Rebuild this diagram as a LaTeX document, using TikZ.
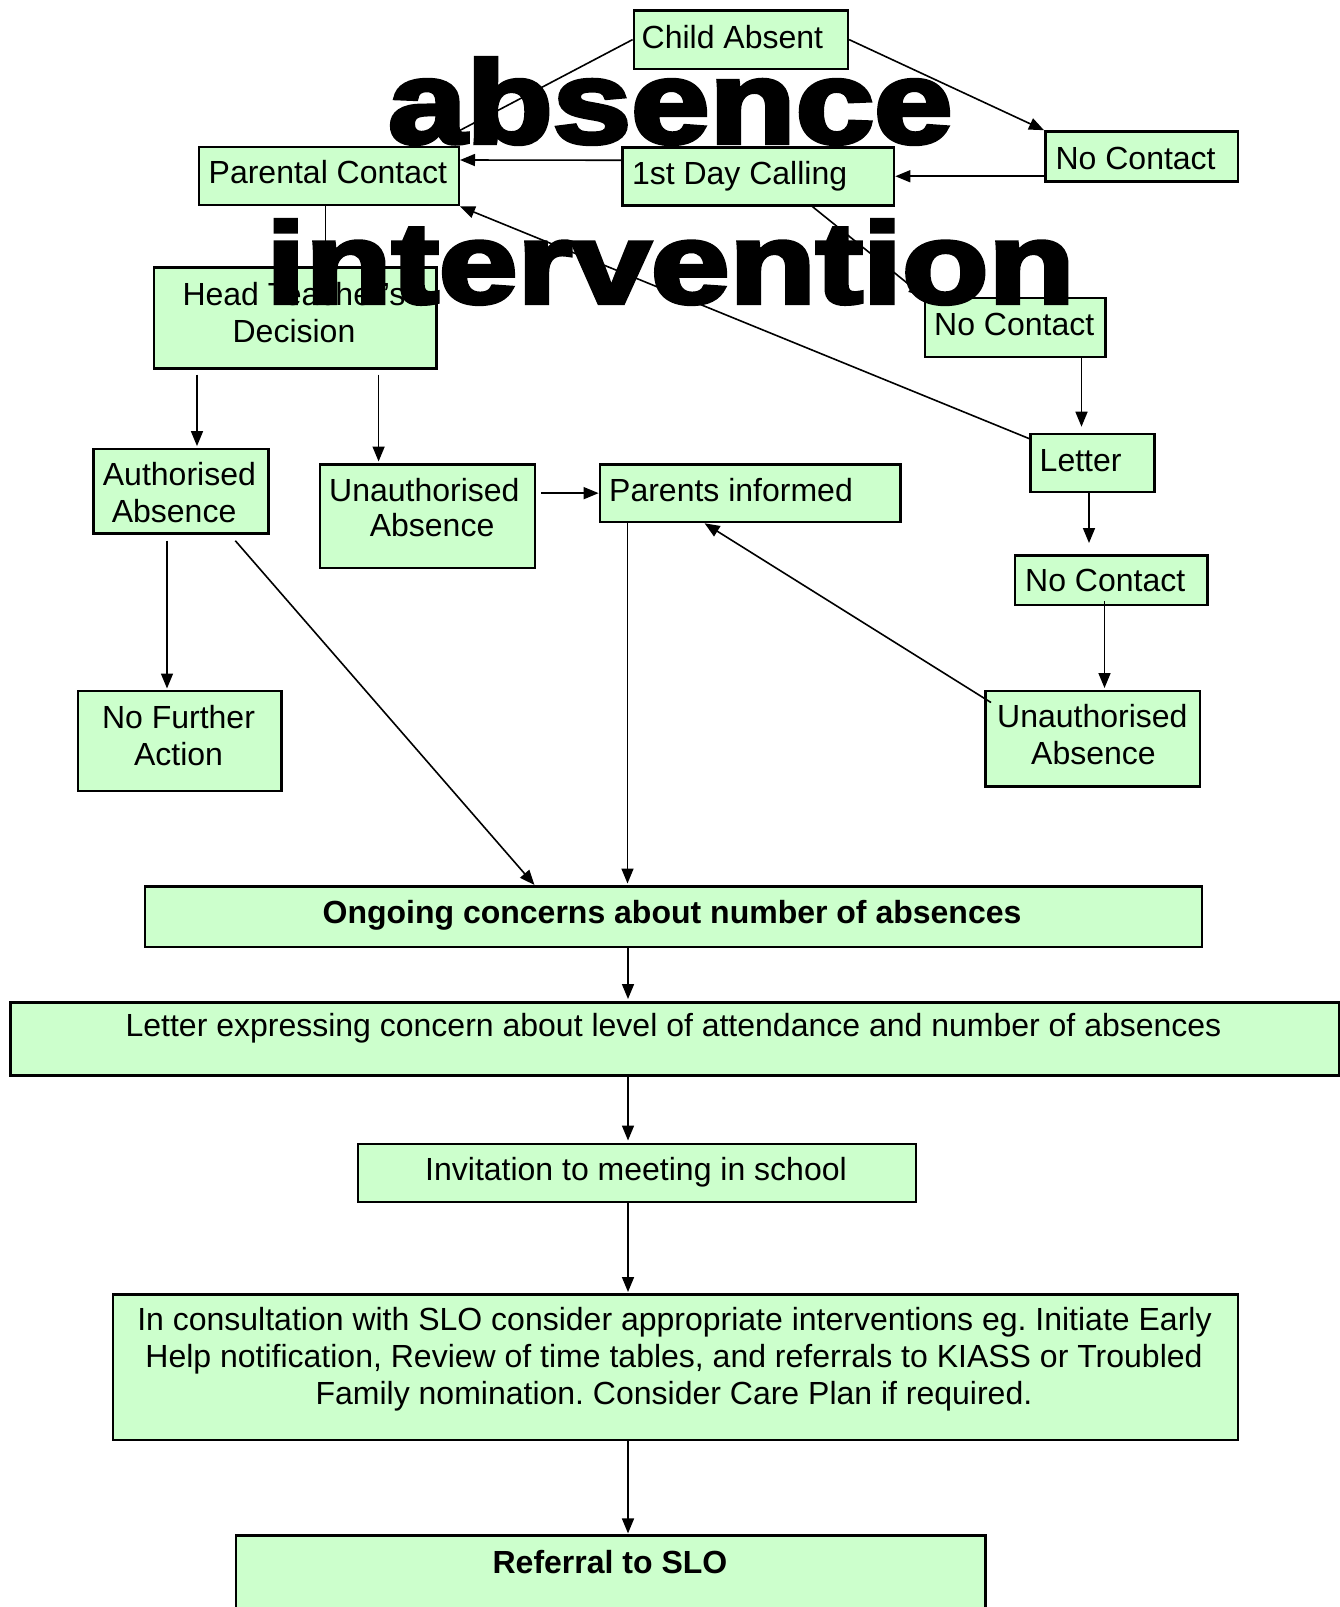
\documentclass[tikz,border=0pt]{standalone}
\usepackage{fontspec}
\usepackage{graphicx}
\setmainfont{Liberation Sans}
\newfontfamily\heavyfont[BoldFeatures={FakeBold=3.5}]{Liberation Sans}
\usetikzlibrary{arrows.meta,calc}
\definecolor{boxg}{HTML}{CCFFCC}
\frenchspacing
\tikzset{
  box/.style={draw=black, line width=2.5pt, fill=boxg, rectangle, inner sep=0pt, anchor=north west},
  txt/.style={inner sep=0pt, font=\fontsize{32}{37}\selectfont},
  btxt/.style={txt, font=\fontsize{32}{37}\selectfont\bfseries},
  conn/.style={line width=1.6pt, draw=black},
  arr/.style={conn, -{Triangle[length=15pt,width=12pt]}},
}
\newcommand{\bx}[5]{\node[box, minimum width=#4pt, minimum height=#5pt] (#1) at (#2,#3) {};}
\begin{document}
\begin{tikzpicture}[x=1pt,y=-1pt]
\clip (0,0) rectangle (1340,1607);
\fill[white] (0,0) rectangle (1340,1607);
% boxes
\bx{ca}{632.6}{9.2}{214}{58.3}
\bx{nc1}{1044}{130.2}{192.5}{50}
\bx{pc}{197.9}{145.6}{259.6}{58.3}
\bx{dc}{621.3}{146}{271.5}{58}
\bx{ht}{152.8}{266}{282.5}{101}
\bx{nc2}{923.8}{296.5}{180.3}{59}
\bx{let}{1029.4}{432.7}{123.8}{58.2}
\bx{aa}{92.3}{447.6}{175}{84.6}
\bx{ua1}{318.8}{463}{215}{103.5}
\bx{pi}{598.6}{463}{300.6}{57.8}
\bx{nc3}{1013.9}{554}{192.2}{49.5}
\bx{nfa}{76.9}{689.5}{203.3}{100.2}
\bx{ua2}{984}{689.5}{214.8}{95.7}
\bx{oc}{143.5}{885}{1057.3}{60.5}
\bx{lec}{9}{1001}{1329}{73.3}
\bx{inv}{356.8}{1142.5}{557.8}{58.2}
\bx{ic}{111.5}{1293}{1125}{145.7}
\bx{ref}{234.8}{1534.4}{749.3}{120}
% texts
\node[txt, anchor=base west] (t-ca) at (641.5,48.3) {Child Absent};
\node[txt, anchor=base west] (t-nc1) at (1055.4,169) {No Contact};
\node[txt, anchor=base west] (t-pc) at (208.5,183.5) {Parental Contact};
\node[txt, anchor=base west] (t-dc) at (631.8,184) {1st Day Calling};
\node[txt, anchor=base] (t-ht1) at (294,305) {Head Teacher’s};
\node[txt, anchor=base] (t-ht2) at (294,342) {Decision};
\node[txt, anchor=base west] (t-nc2) at (934,335.5) {No Contact};
\node[txt, anchor=base west] (t-let) at (1039.5,471) {Letter};
\node[txt, anchor=base west] (t-aa1) at (102.7,485.7) {Authorised};
\node[txt, anchor=base west] (t-aa2) at (111.6,522.3) {Absence};
\node[txt, anchor=base west] (t-ua11) at (329,501.7) {Unauthorised};
\node[txt, anchor=base west] (t-ua12) at (369.6,536.7) {Absence};
\node[txt, anchor=base west] (t-pi) at (609,501) {Parents informed};
\node[txt, anchor=base west] (t-nc3) at (1025,591.7) {No Contact};
\node[txt, anchor=base] (t-nfa1) at (178.5,728.5) {No Further};
\node[txt, anchor=base] (t-nfa2) at (178.5,765.5) {Action};
\node[txt, anchor=base west] (t-ua21) at (997,727.3) {Unauthorised};
\node[txt, anchor=base west] (t-ua22) at (1031,764) {Absence};
\node[btxt, anchor=base] (t-oc) at (672,923.3) {Ongoing concerns about number of absences};
\node[txt, anchor=base] (t-lec) at (673.5,1036.7) {Letter expressing concern about level of attendance and number of absences};
\node[txt, anchor=base] (t-inv) at (636,1180) {Invitation to meeting in school};
\node[txt, anchor=base] (t-ic1) at (674.5,1330) {In consultation with SLO consider appropriate interventions eg. Initiate Early};
\node[txt, anchor=base] (t-ic2) at (674,1367.3) {Help notification, Review of time tables, and referrals to KIASS or Troubled};
\node[txt, anchor=base] (t-ic3) at (674,1404) {Family nomination. Consider Care Plan if required.};
\node[btxt, anchor=base] (t-ref) at (610,1573.3) {Referral to SLO};
% x positions of vertical connectors
\coordinate (pcA) at (447.9,136.7);
\coordinate (xA) at (1081.5,0);
\coordinate (xB) at (1089,0);
\coordinate (xC) at (1104.5,0);
\coordinate (xD) at (627.5,0);
\coordinate (xE) at (197,0);
\coordinate (xF) at (378.6,0);
\coordinate (xG) at (167,0);
\coordinate (xH) at (325.5,0);
\coordinate (xc) at (628,0);
% connectors
\draw[conn] (ca.west) -- (pcA);
\draw[arr] (ca.east) -- (nc1.north west);
\draw[arr] ([yshift=16pt]dc.west) -- ([yshift=16pt]pc.east);
\draw[arr] (nc1.west |- dc.east) -- (dc.east);
\draw[arr] ($(dc.south east)+(-83,0)$) -- (nc2.north west);
\draw[arr] ($(let.north west)+(0,6)$) -- (pc.south east);
\draw[arr, shorten >=6pt] (nc2.south -| xA) -- (let.north -| xA);
\draw[arr, shorten >=11pt] (let.south -| xB) -- (nc3.north -| xB);
\draw[arr, shorten >=1.5pt] ($(nc3.south -| xC)+(0,-5)$) -- (ua2.north -| xC);
\draw[arr] ($(ua2.north west)+(7,13)$) -- ($(pi.south west)+(106,0)$);
\draw[arr, shorten >=1.5pt] (pi.south -| xD) -- (oc.north -| xD);
\draw[arr, shorten <=5pt] (ua1.east |- pi.west) -- (pi.west);
\draw[arr, shorten <=5pt, shorten >=1.5pt] (ht.south -| xE) -- (aa.north -| xE);
\draw[arr, shorten <=5pt, shorten >=1.5pt] (ht.south -| xF) -- (ua1.north -| xF);
\draw[arr, shorten <=6pt, shorten >=1pt] (aa.south -| xG) -- (nfa.north -| xG);
\draw[arr] ($(aa.south west)+(143,6)$) -- ($(oc.north west)+(391,0)$);
\draw[arr] (pc.south -| xH) -- (ht.north -| xH);
\draw[arr, shorten >=2pt] (oc.south -| xc) -- (lec.north -| xc);
\draw[arr, shorten >=2pt] (lec.south -| xc) -- (inv.north -| xc);
\draw[arr, shorten >=1pt] (inv.south -| xc) -- (ic.north -| xc);
\draw[arr, shorten >=1pt] (ic.south -| xc) -- (ref.north -| xc);
% overlaid title words
\node[anchor=base west, inner sep=0pt] (wm1) at (388,143) {\resizebox{564pt}{85pt}{\heavyfont\bfseries absence}};
\node[anchor=base west, inner sep=0pt] (wm2) at (266,303) {\resizebox{808pt}{83pt}{\heavyfont\bfseries intervention}};
\end{tikzpicture}
\end{document}
